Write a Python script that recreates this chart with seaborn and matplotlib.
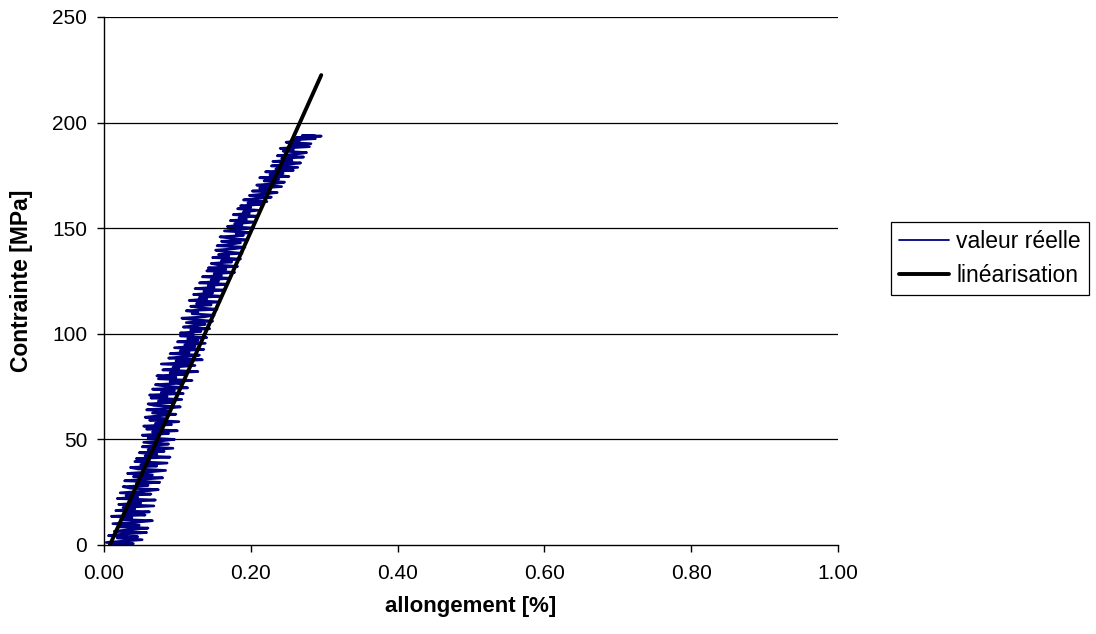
import matplotlib
matplotlib.use("Agg")
import matplotlib.pyplot as plt
from matplotlib.lines import Line2D
import pandas as pd
import seaborn as sns

# Measured stress-strain record: strain in %, stress in MPa
strain_measured = [
    .010, .040, .003, .030, .052, .018, .046, .006, .026, .058, .014, .036, .060, .020, .048,
    .012, .044, .066, .024, .038, .010, .056, .030, .062, .016, .042, .026, .068, .020, .050,
    .034, .070, .018, .046, .030, .064, .022, .054, .074, .036, .026, .060, .044, .076,
    .028, .052, .080, .040, .066, .032, .058, .084, .046, .036, .072, .050, .086, .042,
    .062, .044, .090, .056, .072, .048, .082, .060, .094, .052, .070, .088, .054, .078,
    .096, .060, .074, .052, .088, .066, .100, .058, .080, .054, .092, .070, .102, .062, .084,
    .056, .076, .098, .066, .090, .058, .082, .104, .068, .060, .094, .074, .106, .064,
    .086, .062, .108, .078, .096, .066, .114, .084, .070, .104, .090, .120, .074, .098,
    .072, .112, .090, .128, .080, .102, .094, .124, .078, .116, .098, .134, .088, .110, .130,
    .090, .116, .104, .136, .096, .124, .110, .138, .100, .128, .114, .140, .104, .122,
    .104, .132, .118, .144, .108, .126, .138, .112, .148, .122, .106, .136, .150, .120,
    .128, .112, .154, .134, .118, .146, .126, .158, .116, .140, .130, .160, .122, .148,
    .136, .164, .124, .150, .142, .168, .130, .156, .146, .172, .134, .160, .150, .178, .140,
    .166, .142, .182, .158, .146, .174, .160, .186, .148, .170, .156, .188, .164, .152,
    .178, .192, .154, .170, .186, .160, .196, .174, .158, .190, .180, .200, .164, .184,
    .204, .168, .188, .178, .206, .172, .194, .184, .208, .176, .198, .190, .210, .182, .200,
    .186, .214, .196, .222, .190, .208, .228, .198, .218, .236, .202, .226, .212, .242,
    .208, .232, .246, .218, .238, .212, .252, .226, .244, .220, .258, .234, .264, .228,
    .250, .268, .230, .256, .242, .272, .236, .262, .276, .244, .258, .240, .280, .252,
    .282, .248, .266, .256, .288, .262, .278, .296, .270, .288,
]
stress_measured = [
    0.0, 0.6, 1.2, 1.9, 2.5, 3.3, 3.9, 4.4, 5.2, 5.9, 6.5, 7.3, 8.0, 8.6, 9.4,
    10.1, 10.8, 11.5, 12.1, 12.9, 13.6, 14.2, 15.0, 15.7, 16.3, 17.1, 17.8, 18.5, 19.2, 19.9,
    20.6, 21.3, 22.0, 22.6, 23.4, 24.1, 24.7, 25.5, 26.2, 26.9, 27.6, 28.2, 29.0, 29.7,
    30.4, 31.1, 31.8, 32.4, 33.2, 33.9, 34.5, 35.3, 36.0, 36.7, 37.4, 38.0, 38.8, 39.5,
    40.2, 40.9, 41.6, 42.2, 43.0, 43.7, 44.3, 45.1, 45.8, 46.5, 47.2, 47.8, 48.6, 49.3,
    50.0, 50.7, 51.4, 52.0, 52.8, 53.5, 54.1, 54.9, 55.6, 56.3, 57.0, 57.6, 58.4, 59.1, 59.8,
    60.5, 61.2, 61.9, 62.5, 63.3, 64.0, 64.6, 65.4, 66.1, 66.8, 67.5, 68.1, 68.9, 69.6,
    70.3, 71.0, 71.7, 72.3, 73.1, 73.8, 74.4, 75.2, 75.9, 76.6, 77.3, 77.9, 78.7, 79.4,
    80.1, 80.8, 81.5, 82.1, 82.9, 83.6, 84.2, 85.0, 85.7, 86.4, 87.1, 87.7, 88.5, 89.2, 89.9,
    90.6, 91.3, 92.0, 92.6, 93.4, 94.1, 94.7, 95.5, 96.2, 96.9, 97.6, 98.2, 99.0, 99.7,
    100.4, 101.1, 101.8, 102.4, 103.2, 103.9, 104.5, 105.3, 106.0, 106.7, 107.4, 108.0, 108.8, 109.5,
    110.2, 110.9, 111.6, 112.2, 113.0, 113.7, 114.3, 115.1, 115.8, 116.5, 117.2, 117.8, 118.6, 119.3,
    120.0, 120.7, 121.4, 122.0, 122.8, 123.5, 124.1, 124.9, 125.6, 126.3, 127.0, 127.6, 128.4, 129.1, 129.8,
    130.5, 131.2, 131.9, 132.5, 133.3, 134.0, 134.6, 135.4, 136.1, 136.8, 137.5, 138.1, 138.9, 139.6,
    140.3, 141.0, 141.7, 142.3, 143.1, 143.8, 144.4, 145.2, 145.9, 146.6, 147.3, 147.9, 148.7, 149.4,
    150.1, 150.8, 151.5, 152.1, 152.9, 153.6, 154.2, 155.0, 155.7, 156.4, 157.1, 157.7, 158.5, 159.2, 159.9,
    160.6, 161.3, 162.0, 162.6, 163.4, 164.1, 164.7, 165.5, 166.2, 166.9, 167.6, 168.2, 169.0, 169.7,
    170.4, 171.1, 171.8, 172.4, 173.2, 173.9, 174.5, 175.3, 176.0, 176.7, 177.4, 178.0, 178.8, 179.5,
    180.2, 180.9, 181.6, 182.2, 183.0, 183.7, 184.3, 185.1, 185.8, 186.5, 187.2, 187.8, 188.6, 189.3,
    190.0, 190.7, 191.3, 191.8, 192.4, 192.9, 193.3, 193.6, 193.9, 193.7,
]

# Linear fit (end points)
strain_fit = [0.008, 0.296]
stress_fit = [0.0, 222.5]

series_names = ["valeur réelle", "linéarisation"]
x_ticks = [0.0, 0.2, 0.4, 0.6, 0.8, 1.0]
y_ticks = [0, 50, 100, 150, 200, 250]

df = pd.concat([
    pd.DataFrame({"allongement": strain_measured, "contrainte": stress_measured,
                  "serie": series_names[0]}),
    pd.DataFrame({"allongement": strain_fit, "contrainte": stress_fit,
                  "serie": series_names[1]}),
], ignore_index=True)

sns.set_theme(style="white")
plt.rcParams["font.family"] = ["Liberation Sans", "DejaVu Sans"]

BLUE = "#000080"
fig = plt.figure(figsize=(10.96, 6.34), dpi=100)
ax = fig.add_axes([104 / 1096, 89 / 634, 734 / 1096, 528 / 634])

sns.lineplot(data=df, x="allongement", y="contrainte", hue="serie",
             size="serie", sizes={series_names[0]: 1.9, series_names[1]: 2.8},
             palette={series_names[0]: BLUE, series_names[1]: "#000000"},
             estimator=None, sort=False, ax=ax, legend=False)

ax.set_xlim(0, 1.0)
ax.set_ylim(0, 250)
ax.set_xticks(x_ticks)
ax.set_xticklabels([f"{v:.2f}" for v in x_ticks])
ax.set_yticks(y_ticks)
ax.set_yticklabels([str(v) for v in y_ticks])

for y in y_ticks[1:]:
    ax.axhline(y, color="#000000", lw=0.9, zorder=0)

for side in ("top", "right"):
    ax.spines[side].set_visible(False)
for side in ("left", "bottom"):
    ax.spines[side].set_color("#000000")
    ax.spines[side].set_linewidth(1.0)

ax.tick_params(axis="both", which="major", direction="out", length=5,
               width=1.0, color="#000000", labelsize=15, labelcolor="#000000",
               bottom=True, left=True)
ax.tick_params(axis="x", pad=9)
ax.tick_params(axis="y", pad=7)

ax.set_xlabel("allongement [%]", fontsize=16, fontweight="bold", labelpad=9,
              color="#000000")
ax.set_ylabel("Contrainte [MPa]", fontsize=16.5, fontweight="bold", labelpad=14,
              color="#000000")

# Legend
handles = [Line2D([], [], color=BLUE, lw=1.3),
           Line2D([], [], color="#000000", lw=2.8)]
leg = fig.legend(handles, series_names, loc="center left",
                 bbox_to_anchor=(891 / 1096, 1 - 258.5 / 634), fontsize=16.5,
                 frameon=True, fancybox=False, framealpha=1,
                 edgecolor="#000000", handlelength=2.2, handletextpad=0.3,
                 borderpad=0.35, labelspacing=0.45, borderaxespad=0)
leg.get_frame().set_linewidth(0.9)
for t in leg.get_texts():
    t.set_color("#000000")

fig.savefig("out.png", dpi=100)
